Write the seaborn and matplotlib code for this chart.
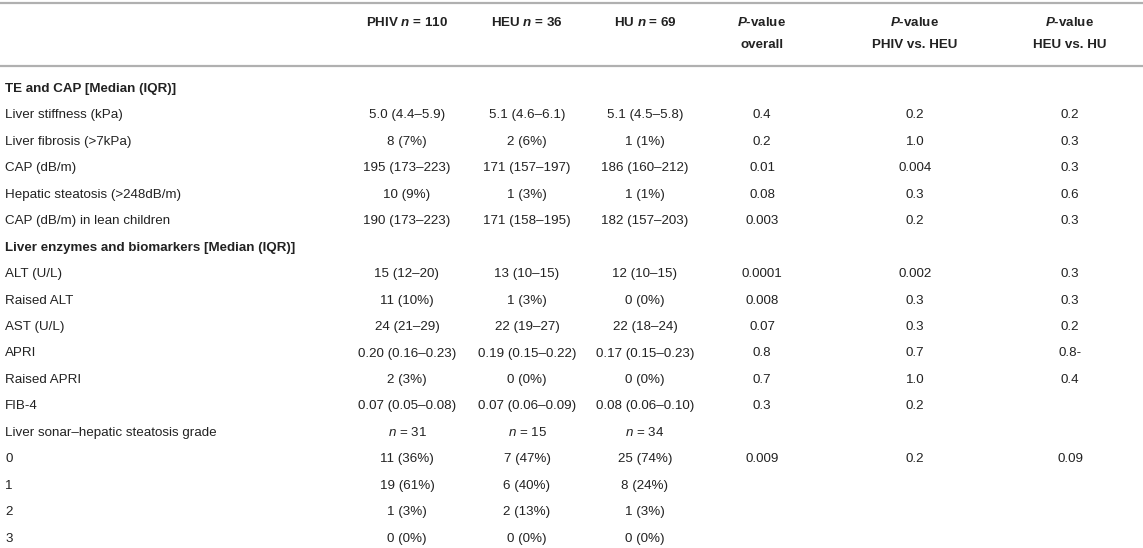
import numpy as np
import matplotlib
matplotlib.use("Agg")
import matplotlib.pyplot as plt
import seaborn as sns

# --- table content ---
row_labels = [
    "TE and CAP [Median (IQR)]",
    "Liver stiffness (kPa)",
    "Liver fibrosis (>7kPa)",
    "CAP (dB/m)",
    "Hepatic steatosis (>248dB/m)",
    "CAP (dB/m) in lean children",
    "Liver enzymes and biomarkers [Median (IQR)]",
    "ALT (U/L)",
    "Raised ALT",
    "AST (U/L)",
    "APRI",
    "Raised APRI",
    "FIB-4",
    "Liver sonar\u2013hepatic steatosis grade",
    "0", "1", "2", "3",
]
section_rows = [0, 6]

phiv = ["", "5.0 (4.4\u20135.9)", "8 (7%)", "195 (173\u2013223)", "10 (9%)", "190 (173\u2013223)",
        "", "15 (12\u201320)", "11 (10%)", "24 (21\u201329)", "0.20 (0.16\u20130.23)", "2 (3%)",
        "0.07 (0.05\u20130.08)", "$n$ = 31", "11 (36%)", "19 (61%)", "1 (3%)", "0 (0%)"]
heu = ["", "5.1 (4.6\u20136.1)", "2 (6%)", "171 (157\u2013197)", "1 (3%)", "171 (158\u2013195)",
       "", "13 (10\u201315)", "1 (3%)", "22 (19\u201327)", "0.19 (0.15\u20130.22)", "0 (0%)",
       "0.07 (0.06\u20130.09)", "$n$ = 15", "7 (47%)", "6 (40%)", "2 (13%)", "0 (0%)"]
hu = ["", "5.1 (4.5\u20135.8)", "1 (1%)", "186 (160\u2013212)", "1 (1%)", "182 (157\u2013203)",
      "", "12 (10\u201315)", "0 (0%)", "22 (18\u201324)", "0.17 (0.15\u20130.23)", "0 (0%)",
      "0.08 (0.06\u20130.10)", "$n$ = 34", "25 (74%)", "8 (24%)", "1 (3%)", "0 (0%)"]
p_overall = ["", "0.4", "0.2", "0.01", "0.08", "0.003",
             "", "0.0001", "0.008", "0.07", "0.8", "0.7",
             "0.3", "", "0.009", "", "", ""]
p_phiv_heu = ["", "0.2", "1.0", "0.004", "0.3", "0.2",
              "", "0.002", "0.3", "0.3", "0.7", "1.0",
              "0.2", "", "0.2", "", "", ""]
p_heu_hu = ["", "0.2", "0.3", "0.3", "0.6", "0.3",
            "", "0.3", "0.3", "0.2", "0.8-", "0.4",
            "", "", "0.09", "", "", ""]

headers = [
    ["PHIV $\\mathbfit{n}$ = 110"],
    ["HEU $\\mathbfit{n}$ = 36"],
    ["HU $\\mathbfit{n}$ = 69"],
    ["$\\mathbfit{P}$-value", "overall"],
    ["$\\mathbfit{P}$-value", "PHIV vs. HEU"],
    ["$\\mathbfit{P}$-value", "HEU vs. HU"],
]

sns.set_theme(style="white")
plt.rcParams["font.family"] = ["Liberation Sans", "DejaVu Sans"]
plt.rcParams["mathtext.fontset"] = "custom"
plt.rcParams["mathtext.rm"] = "Liberation Sans"
plt.rcParams["mathtext.it"] = "Liberation Sans:italic"
plt.rcParams["mathtext.bf"] = "Liberation Sans:bold"
plt.rcParams["mathtext.bfit"] = "Liberation Sans:bold:italic"

W, H = 1143, 548
fig = plt.figure(figsize=(W / 100, H / 100), dpi=100)
ax = fig.add_axes([0, 0, 1, 1])
ax.set_xlim(0, W)
ax.set_ylim(H, 0)
ax.axis("off")

txt_col = "#222222"
rule_col = "#b0b0b0"
fs = 9.6

col_x = [407, 527, 645, 762, 915, 1070]
columns = [phiv, heu, hu, p_overall, p_phiv_heu, p_heu_hu]

# rules
ax.plot([0, W], [3, 3], color=rule_col, lw=1.6, solid_capstyle="butt")
ax.plot([0, W], [66, 66], color=rule_col, lw=1.6, solid_capstyle="butt")

# header
for x, lines in zip(col_x, headers):
    for k, s in enumerate(lines):
        ax.text(x, 23 + k * 22, s, ha="center", va="center", fontsize=fs,
                fontweight="bold", color=txt_col)

# body
row_y = 89 + np.arange(len(row_labels)) * 26.45
for i, (y, lab) in enumerate(zip(row_y, row_labels)):
    bold = i in section_rows
    ax.text(5, y, lab, ha="left", va="center", fontsize=fs,
            fontweight="bold" if bold else "normal", color=txt_col)
    for x, col in zip(col_x, columns):
        if col[i]:
            ax.text(x, y, col[i], ha="center", va="center", fontsize=fs, color=txt_col)

fig.savefig("out.png", dpi=100, facecolor="white")
